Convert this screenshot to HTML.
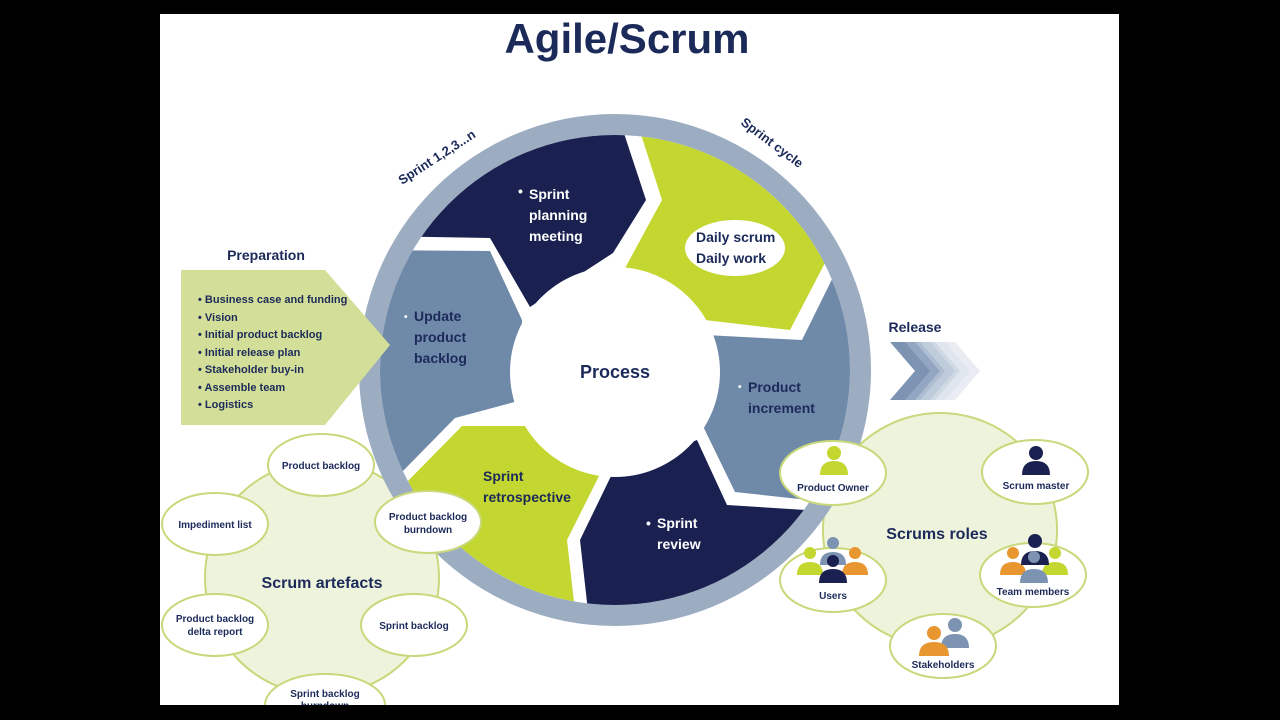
<!DOCTYPE html>
<html><head><meta charset="utf-8"><style>
html,body{margin:0;padding:0;background:#000;}
svg{display:block;font-family:"Liberation Sans",sans-serif;font-weight:bold;}
</style></head><body>
<svg width="1280" height="720" viewBox="0 0 1280 720" xmlns="http://www.w3.org/2000/svg">
<defs>
<clipPath id="cc"><circle cx="615" cy="370" r="235"/></clipPath>
<clipPath id="pp"><rect x="160" y="14" width="959" height="691"/></clipPath>
</defs>
<rect width="1280" height="720" fill="#000"/>
<rect x="160" y="14" width="959" height="691" fill="#fff"/>
<g clip-path="url(#pp)">
<text x="627" y="53" text-anchor="middle" font-size="42" fill="#1c2a5a">Agile/Scrum</text>

<polygon points="890,342 915,342 940,371 915,400 890,400 915,371" fill="#7c93b2"/>
<polygon points="905,342 930,342 955,371 930,400 905,400 930,371" fill="#9aadc5" opacity="0.8"/>
<polygon points="920,342 945,342 970,371 945,400 920,400 945,371" fill="#c3cfdd" opacity="0.8"/>
<polygon points="935,342 955,342 980,371 955,400 935,400 960,371" fill="#e3e9f0" opacity="0.8"/>
<text x="915" y="332" text-anchor="middle" font-size="14" fill="#1c2a5a">Release</text>

<circle cx="322" cy="578" r="117" fill="#eef3dc" stroke="#c8d87a" stroke-width="2"/>
<g fill="#fff" stroke="#c8d87a" stroke-width="2">
<ellipse cx="321" cy="465" rx="53" ry="31"/>
<ellipse cx="215" cy="524" rx="53" ry="31"/>
<ellipse cx="215" cy="625" rx="53" ry="31"/>
<ellipse cx="414" cy="625" rx="53" ry="31"/>
<ellipse cx="325" cy="705" rx="60" ry="31"/>
</g>
<text x="322" y="588" text-anchor="middle" font-size="16" fill="#1c2a5a">Scrum artefacts</text>
<g font-size="10" fill="#1c2a5a" text-anchor="middle">
<text x="321" y="469">Product backlog</text>
<text x="215" y="528">Impediment list</text>
<text x="215" y="622">Product backlog</text>
<text x="215" y="635">delta report</text>
<text x="414" y="629">Sprint backlog</text>
<text x="325" y="697">Sprint backlog</text>
<text x="325" y="709">burndown</text>
</g>

<circle cx="940" cy="530" r="117" fill="#eef3dc" stroke="#c8d87a" stroke-width="2"/>

<circle cx="615" cy="370" r="256" fill="#9cadc2"/>
<g clip-path="url(#cc)">
<rect x="370" y="120" width="500" height="500" fill="#fff"/>
<polygon points="370,236 490,238 530,307 613,253 646,200 613,100 370,100" fill="#1a2150"/>
<polygon points="630,100 662,200 624,270 705,320 790,330 828,257 900,200 900,100" fill="#c4d630"/>
<polygon points="840,263 802,340 705,335 700,420 735,492 900,510 900,263" fill="#6f89a9"/>
<polygon points="697,440 727,505 900,516 900,700 598,700 580,540 613,472" fill="#1a2150"/>
<polygon points="370,470 405,484 462,426 540,426 602,470 567,540 585,700 370,700" fill="#c4d630"/>
<polygon points="360,250 490,251 522,320 522,400 455,418 400,474 360,474" fill="#6f89a9"/>
</g>
<circle cx="615" cy="372" r="105" fill="#fff"/>
<text x="615" y="378" text-anchor="middle" font-size="18" fill="#1c2a5a">Process</text>

<polygon points="181,270 325,270 390,345 325,425 181,425" fill="#d3df98"/>
<text x="266" y="260" text-anchor="middle" font-size="14" fill="#1c2a5a">Preparation</text>
<g font-size="11" fill="#1c2a5a">
<text x="198" y="303">• Business case and funding</text>
<text x="198" y="321">• Vision</text>
<text x="198" y="338">• Initial product backlog</text>
<text x="198" y="356">• Initial release plan</text>
<text x="198" y="373">• Stakeholder buy-in</text>
<text x="198" y="391">• Assemble team</text>
<text x="198" y="408">• Logistics</text>
</g>

<ellipse cx="735" cy="248" rx="50" ry="28" fill="#fff"/>
<g font-size="14" fill="#1c2a5a">
<text x="696" y="242">Daily scrum</text>
<text x="696" y="263">Daily work</text>
<text x="414" y="321">Update</text>
<text x="414" y="342">product</text>
<text x="414" y="363">backlog</text>
<text x="748" y="392">Product</text>
<text x="748" y="413">increment</text>
</g>
<g font-size="14" fill="#fff">
<text x="529" y="199">Sprint</text>
<text x="529" y="220">planning</text>
<text x="529" y="241">meeting</text>
<text x="657" y="528">Sprint</text>
<text x="657" y="549">review</text>
<text x="518" y="196">•</text>
<text x="646" y="528">•</text>
</g>
<g font-size="14" fill="#1c2a5a">
<text x="483" y="481">Sprint</text>
<text x="483" y="502">retrospective</text>
</g>
<g fill="#fff" font-size="10"><text x="404" y="320">•</text><text x="738" y="390">•</text></g>

<text x="0" y="0" font-size="13" fill="#1c2a5a" transform="translate(402,185) rotate(-33)">Sprint 1,2,3...n</text>
<text x="0" y="0" font-size="13" fill="#1c2a5a" transform="translate(740,124) rotate(37)">Sprint cycle</text>

<ellipse cx="428" cy="522" rx="53" ry="31" fill="#fff" stroke="#c8d87a" stroke-width="2"/>
<g font-size="10" fill="#1c2a5a" text-anchor="middle">
<text x="428" y="520">Product backlog</text>
<text x="428" y="533">burndown</text>
</g>

<g fill="#fff" stroke="#c8d87a" stroke-width="2">
<ellipse cx="833" cy="473" rx="53" ry="32"/>
<ellipse cx="1035" cy="472" rx="53" ry="32"/>
<ellipse cx="833" cy="580" rx="53" ry="32"/>
<ellipse cx="1033" cy="575" rx="53" ry="32"/>
<ellipse cx="943" cy="646" rx="53" ry="32"/>
</g>
<g>
<circle cx="834" cy="453" r="7" fill="#c4d630"/><path d="M820,475 q0,-14 14,-14 q14,0 14,14z" fill="#c4d630"/>
<circle cx="1036" cy="453" r="7" fill="#1a2150"/><path d="M1022,475 q0,-14 14,-14 q14,0 14,14z" fill="#1a2150"/>
<circle cx="810" cy="553" r="6" fill="#c4d630"/><path d="M797,575 q0,-13 13,-13 q13,0 13,13z" fill="#c4d630"/>
<circle cx="855" cy="553" r="6" fill="#e8962f"/><path d="M842,575 q0,-13 13,-13 q13,0 13,13z" fill="#e8962f"/>
<circle cx="833" cy="543" r="6" fill="#7c93b2"/><path d="M820,565 q0,-13 13,-13 q13,0 13,13z" fill="#7c93b2"/>
<circle cx="833" cy="561" r="6" fill="#1a2150"/><path d="M819,583 q0,-14 14,-14 q14,0 14,14z" fill="#1a2150"/>
<circle cx="1013" cy="553" r="6" fill="#e8962f"/><path d="M1000,575 q0,-13 13,-13 q13,0 13,13z" fill="#e8962f"/>
<circle cx="1055" cy="553" r="6" fill="#c4d630"/><path d="M1042,575 q0,-13 13,-13 q13,0 13,13z" fill="#c4d630"/>
<circle cx="1035" cy="541" r="7" fill="#1a2150"/><path d="M1021,565 q0,-14 14,-14 q14,0 14,14z" fill="#1a2150"/>
<circle cx="1034" cy="557" r="6" fill="#7c93b2"/><path d="M1020,583 q0,-14 14,-14 q14,0 14,14z" fill="#7c93b2"/>
<circle cx="955" cy="625" r="7" fill="#7c93b2"/><path d="M941,648 q0,-14 14,-14 q14,0 14,14z" fill="#7c93b2"/>
<circle cx="934" cy="633" r="7" fill="#e8962f"/><path d="M919,656 q0,-14 15,-14 q15,0 15,14z" fill="#e8962f"/>
</g>
<text x="937" y="539" text-anchor="middle" font-size="16" fill="#1c2a5a">Scrums roles</text>
<g font-size="10" fill="#1c2a5a" text-anchor="middle">
<text x="833" y="491">Product Owner</text>
<text x="1036" y="489">Scrum master</text>
<text x="833" y="599">Users</text>
<text x="1033" y="595">Team members</text>
<text x="943" y="668">Stakeholders</text>
</g>
</g>
</svg>
</body></html>
